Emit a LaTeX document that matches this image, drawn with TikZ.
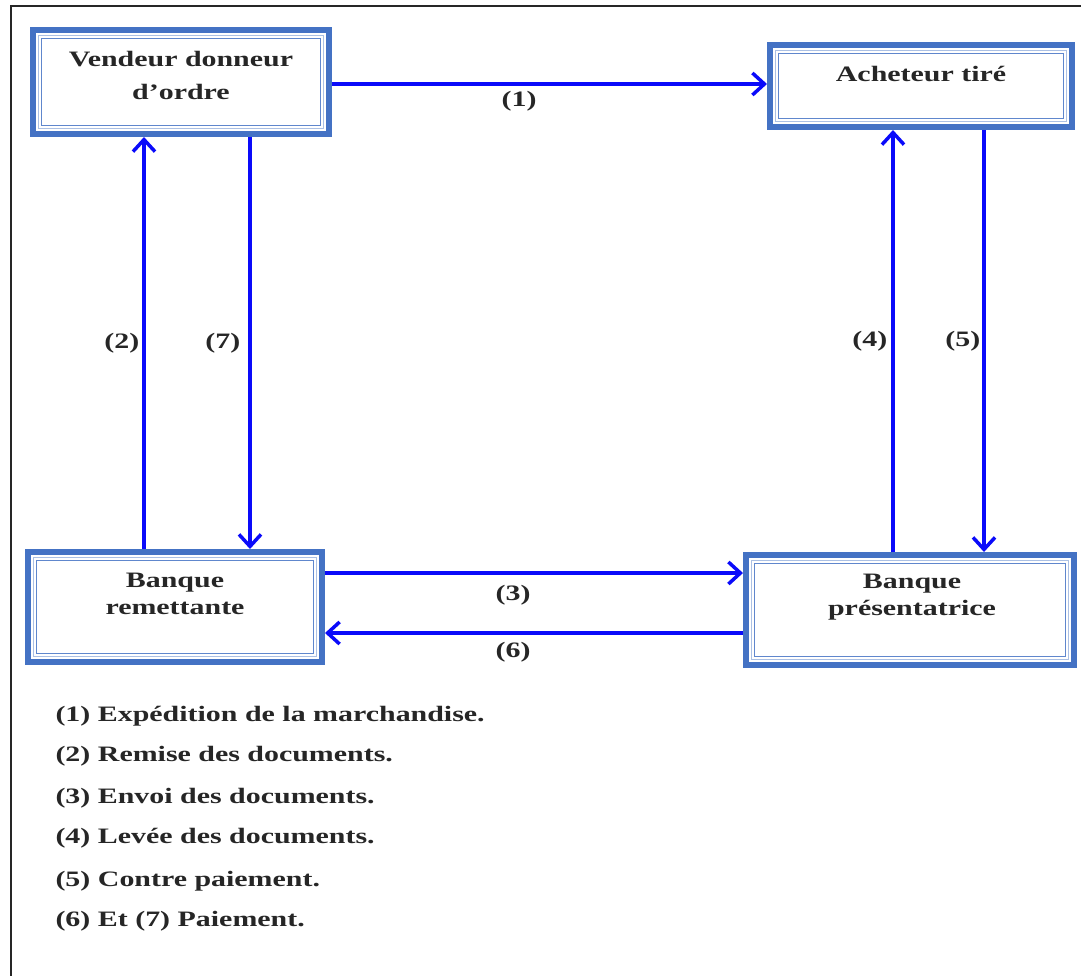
\documentclass[tikz,border=0pt]{standalone}
\usepackage{fontspec}
\setmainfont{Liberation Serif}[FakeStretch=1.36]
\usetikzlibrary{arrows.meta, positioning}
\definecolor{boxblue}{RGB}{68,114,196}
\definecolor{arrowblue}{RGB}{10,10,250}
\tikzstyle{schema}=[x=1pt, y=-1pt, >={Straight Barb[length=12pt,width=22pt]},
                    font=\fontsize{22}{27}\selectfont\bfseries, text=black!85]
\tikzstyle{party}=[rectangle, draw=boxblue, line width=6pt, anchor=north west]
\tikzstyle{innerframe}=[draw=boxblue!85, line width=1.3pt]
\tikzstyle{innerlight}=[draw=boxblue!45, line width=1pt]
\tikzstyle{outerframe}=[draw=black!85, line width=2.5pt]
\tikzstyle{flow}=[color=arrowblue, line width=3.5pt]
\tikzstyle{num}=[inner sep=2pt, text=black!85]

\begin{document}
\begin{tikzpicture}[schema]
  \useasboundingbox (0,0) rectangle (1081,975);
  \draw[outerframe] (11,6) rectangle (1110,1010);
  \node[party, minimum width=296pt, minimum height=104pt] (vendeur) at (30,27) {};
  \node[party, minimum width=302pt, minimum height=82pt] (acheteur) at (767,42) {};
  \node[party, minimum width=294pt, minimum height=110pt] (remettante) at (25,549) {};
  \node[party, minimum width=328pt, minimum height=110pt] (presentatrice) at (743,552) {};
  \foreach \n in {vendeur, acheteur, remettante, presentatrice} {
    \draw[innerlight] ([shift={(8.5,8.5)}]\n.north west) rectangle ([shift={(-8.5,-8.5)}]\n.south east);
    \draw[innerframe] ([shift={(11.5,11.5)}]\n.north west) rectangle ([shift={(-11.5,-11.5)}]\n.south east);
  }
  \node[align=center] (vendeurtxt) at (181,75) {Vendeur donneur\\[6pt]d’ordre};
  \node (acheteurtxt) at (921,73.5) {Acheteur tiré};
  \node[align=center] (remettantetxt) at (175,594) {Banque\\remettante};
  \node[align=center] (presentatricetxt) at (912,597.5) {Banque\\présentatrice};
  \coordinate (c2) at (144,0);
  \coordinate (c7) at (250,0);
  \coordinate (c4) at (893,0);
  \coordinate (c5) at (984,0);
  \coordinate (r1) at (0,84);
  \coordinate (r3) at (0,573);
  \coordinate (r6) at (0,633);
  \path[->, flow] (vendeur.east |- r1) edge node[num, below=3pt, pos=.43] {(1)} (acheteur.west |- r1);
  \path[->, flow] (remettante.north -| c2) edge node[num, left=1pt] {(2)} (vendeur.south -| c2);
  \path[->, flow] (vendeur.south -| c7) edge node[num, left=6pt] {(7)} (remettante.north -| c7);
  \path[->, flow] (presentatrice.north -| c4) edge node[num, left=2pt] {(4)} (acheteur.south -| c4);
  \path[->, flow] (acheteur.south -| c5) edge node[num, left=0pt] {(5)} (presentatrice.north -| c5);
  \path[->, flow] (remettante.east |- r3) edge node[num, below=8pt, pos=.45] {(3)} (presentatrice.west |- r3);
  \path[->, flow] (presentatrice.west |- r6) edge node[num, below=5pt, pos=.55] {(6)} (remettante.east |- r6);
  \node[anchor=base west] (leg1) at (52,721) {(1) Expédition de la marchandise.};
  \node[anchor=base west] (leg2) at (52,761) {(2) Remise des documents.};
  \node[anchor=base west] (leg3) at (52,803) {(3) Envoi des documents.};
  \node[anchor=base west] (leg4) at (52,843) {(4) Levée des documents.};
  \node[anchor=base west] (leg5) at (52,886) {(5) Contre paiement.};
  \node[anchor=base west] (leg6) at (52,926) {(6) Et (7) Paiement.};
\end{tikzpicture}
\end{document}
